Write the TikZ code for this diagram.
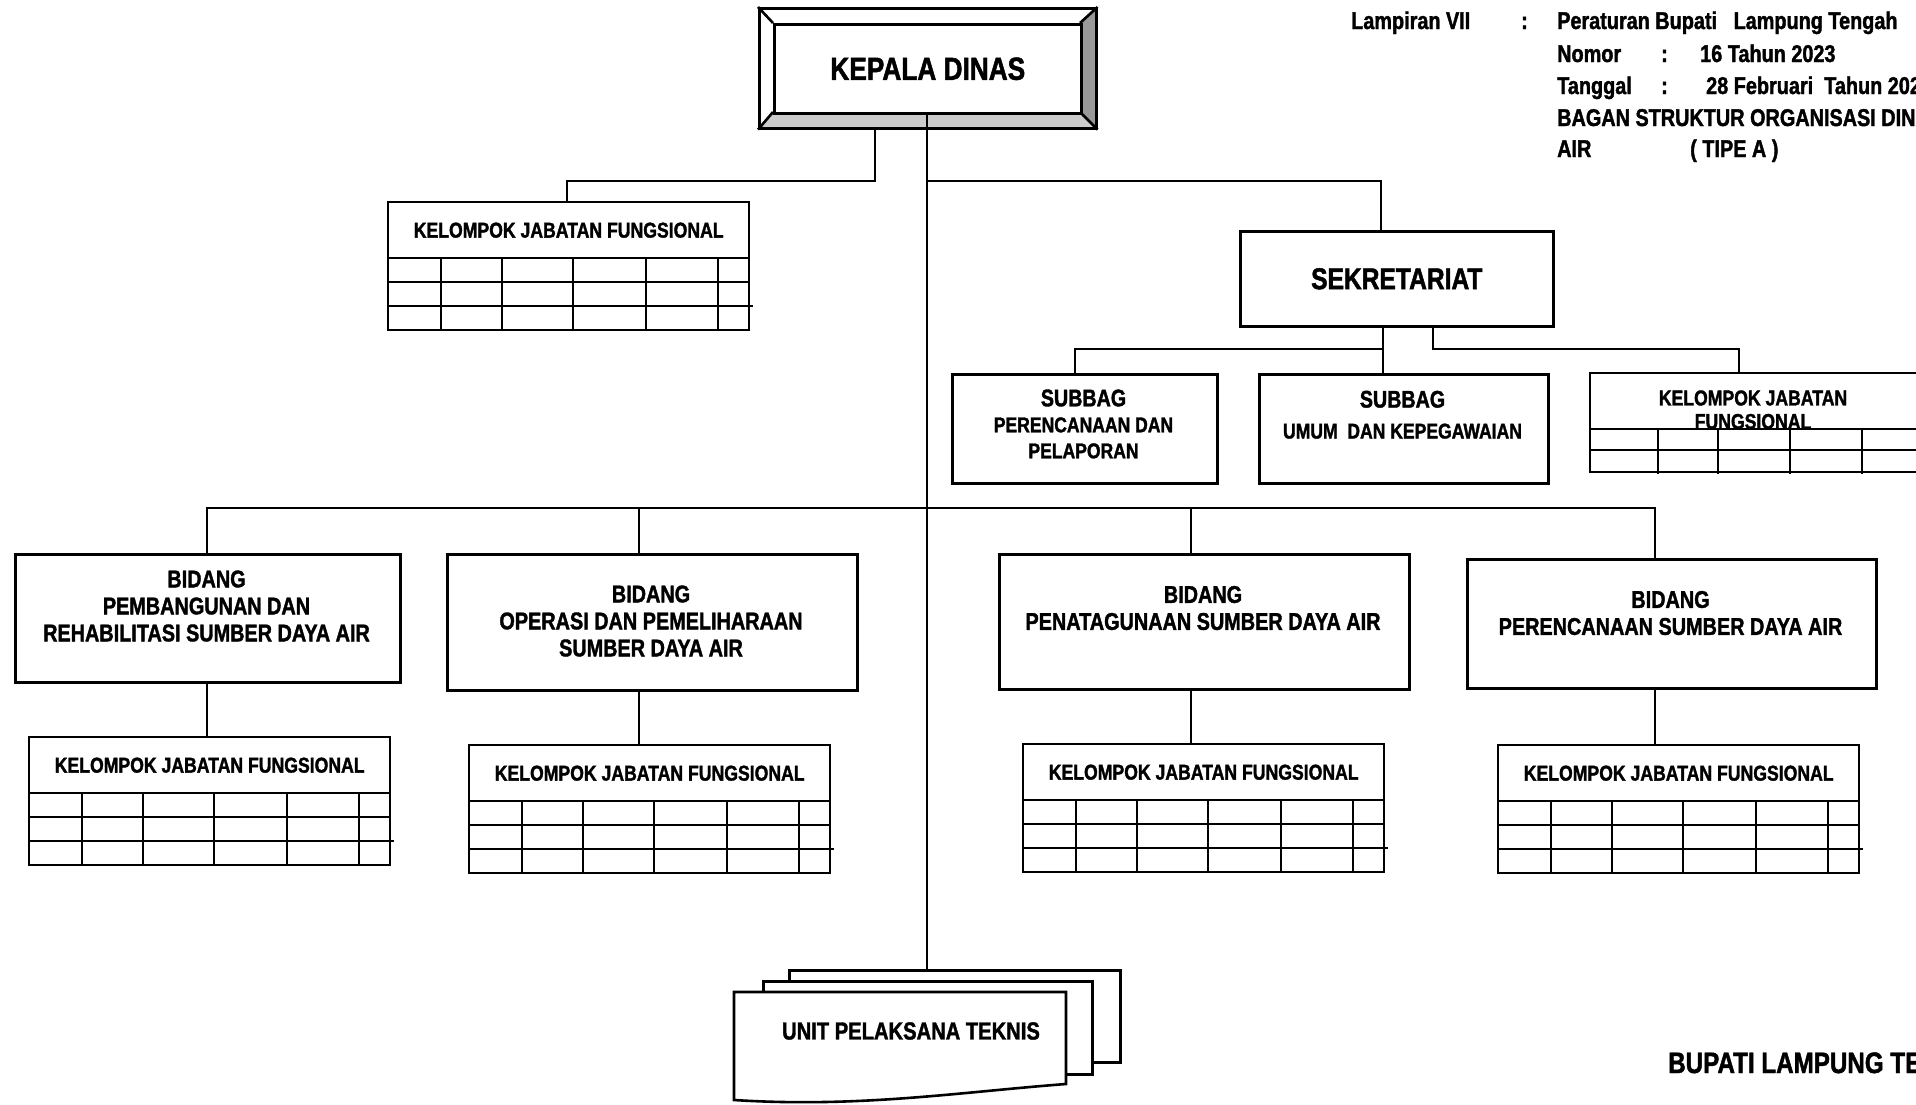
\documentclass[tikz,border=0pt]{standalone}
\usepackage{fontspec}
\setmainfont{Liberation Sans}[FakeStretch=0.82, BoldFeatures={FakeBold=1.5}]
\usetikzlibrary{calc}
\newcommand{\kjfgrid}[3]{%
  \node[kjfh] (#1) at (#2,#3) {KELOMPOK JABATAN FUNGSIONAL};
  \begin{scope}[shift={(#2,#3)}]
    \draw[ln] (0,0) rectangle (361,128);
    \draw[ln] (0,56) -- (361,56) (0,80) -- (361,80) (0,104) -- (365,104);
    \foreach \cx in {53,114,185,258,330} {\draw[ln] (\cx,56) -- (\cx,128);}
  \end{scope}}
\begin{document}
\begin{tikzpicture}[x=1pt,y=-1pt,
  ln/.style={line width=2.6pt},
  bx/.style={draw, line width=2.6pt, inner sep=0pt, anchor=north west},
  kjfh/.style={inner sep=0pt, anchor=north west, minimum width=361pt, minimum height=56pt, font=\bfseries\fontsize{21.5}{24}\selectfont},
  lbl/.style={align=center, inner sep=0pt},
  fB/.style={font=\bfseries\fontsize{24.2}{27}\selectfont},
  fS/.style={font=\bfseries\fontsize{21.4}{26}\selectfont},
  hd/.style={anchor=base west, inner sep=0pt, font=\bfseries\fontsize{24.2}{28}\selectfont}]
\useasboundingbox (0,0) rectangle (1916,1104);
\fill[white] (0,0) rectangle (1916,1104);
\foreach \n in {207,567,639,875,927,1075,1191,1381,1383,1433,1655,1739} {\coordinate (x\n) at (\n,0);}
% header
\node[hd] (h1) at (1351,29) {Lampiran VII};
\node[hd] (h2) at (1521,29) {:};
\node[hd] (h3) at (1557,29) {Peraturan Bupati\ \ \ Lampung Tengah};
\node[hd] (h4) at (1557,62) {Nomor};
\node[hd] (h5) at (1661,62) {:};
\node[hd] (h6) at (1700,62) {16 Tahun 2023};
\node[hd] (h7) at (1557,94) {Tanggal};
\node[hd] (h8) at (1661,94) {:};
\node[hd] (h9) at (1706,94) {28 Februari\ \ Tahun 2023};
\node[hd] (h10) at (1557,126) {BAGAN STRUKTUR ORGANISASI DINAS};
\node[hd] (h11) at (1557,157) {AIR};
\node[hd] (h12) at (1690,157) {( TIPE A )};
\node[hd, font=\bfseries\fontsize{29.5}{33}\selectfont] (bup) at (1668,1073) {BUPATI LAMPUNG TENGAH};
% kepala dinas
\fill[black!40] (1080,23) -- (1095,7) -- (1095,127) -- (1080,112) -- cycle;
\fill[black!20] (773,112) -- (1080,112) -- (1095,127) -- (758,127) -- cycle;
\node[bx, minimum width=337pt, minimum height=120pt] (kdo) at (758,7) {};
\draw[ln] (kdo.north west) -- (773,23) (kdo.north east) -- (1080,23) (kdo.south west) -- (773,112) (kdo.south east) -- (1080,112);
\node[bx, minimum width=307pt, minimum height=89pt, font=\bfseries\fontsize{32}{36}\selectfont] (kd) at (773,23) {KEPALA DINAS};
% UPT
\node[bx, fill=white, minimum width=331pt, minimum height=92pt] (ub) at (788,969) {};
\draw[ln] (kd.south -| x927) -- (ub.north -| x927);
\node[bx, fill=white, minimum width=329pt, minimum height=93pt] (um) at (762,980) {};
\draw[ln, fill=white] (734,992) -- (1066,992) -- (1066,1084) .. controls (960,1092) and (860,1108) .. (734,1100) -- cycle;
\node[lbl, font=\bfseries\fontsize{24.6}{28}\selectfont] (upt) at (911,1031) {UNIT PELAKSANA TEKNIS};
% top-left KJF
\coordinate (j1) at (927,181);
\kjfgrid{kjf0}{388}{202}
\draw[ln] (kdo.south -| x875) |- (x567 |- j1) -- (kjf0.north -| x567);
% sekretariat
\node[bx, minimum width=313pt, minimum height=95pt, font=\bfseries\fontsize{30}{34}\selectfont] (sek) at (1239,230) {SEKRETARIAT};
\draw[ln] (j1) -| (sek.north -| x1381);
\node[bx, minimum width=265pt, minimum height=109pt] (sub1) at (951,373) {};
\node[lbl, fS] (sub1t) at (1083.5,424) {{\fontsize{24}{26}\selectfont SUBBAG}\\PERENCANAAN DAN\\PELAPORAN};
\node[bx, minimum width=289pt, minimum height=109pt] (sub2) at (1258,373) {};
\node[lbl, fS] (sub2t) at (1402.5,414.75) {{\fontsize{24}{26}\selectfont SUBBAG}\\[5pt]UMUM\ \ DAN KEPEGAWAIAN};
\node[inner sep=0pt, anchor=north west, minimum width=330pt, minimum height=56pt] (kjfs) at (1590,373) {};
\node[lbl, font=\bfseries\fontsize{21.5}{23.5}\selectfont] (kjfst) at (1753,409.75) {KELOMPOK JABATAN\\FUNGSIONAL};
\begin{scope}[shift={(1590,373)}]
  \draw[ln] (330,0) -- (0,0) -- (0,99) -- (330,99);
  \draw[ln] (0,56) -- (330,56) (0,77) -- (330,77);
  \foreach \cx in {68,128,200,272} {\draw[ln] (\cx,56) -- (\cx,101);}
\end{scope}
\coordinate (j2) at (1383,349);
\draw[ln] (sek.south -| x1383) -- (sub2.north -| x1383);
\draw[ln] (j2) -| (sub1.north -| x1075);
\draw[ln] (sek.south -| x1433) |- (x1739 |- j2) -- (kjfs.north -| x1739);
% bidang
\node[bx, minimum width=385pt, minimum height=128pt] (b1) at (14,553) {};
\node[lbl, fB] (b1t) at (206.5,606) {BIDANG\\PEMBANGUNAN DAN\\REHABILITASI SUMBER DAYA AIR};
\node[bx, minimum width=410pt, minimum height=136pt] (b2) at (446,553) {};
\node[lbl, fB] (b2t) at (651,621) {BIDANG\\OPERASI DAN PEMELIHARAAN\\SUMBER DAYA AIR};
\node[bx, minimum width=410pt, minimum height=135pt] (b3) at (998,553) {};
\node[lbl, fB] (b3t) at (1203,608) {BIDANG\\PENATAGUNAAN SUMBER DAYA AIR};
\node[bx, minimum width=409pt, minimum height=129pt] (b4) at (1466,558) {};
\node[lbl, fB] (b4t) at (1670.5,613) {BIDANG\\PERENCANAAN SUMBER DAYA AIR};
\coordinate (bus) at (927,508);
\draw[ln] (b1.north -| x207) |- (x1655 |- bus) -- (b4.north -| x1655);
\draw[ln] (x639 |- bus) -- (b2.north -| x639);
\draw[ln] (x1191 |- bus) -- (b3.north -| x1191);
\kjfgrid{k1}{29}{737}
\kjfgrid{k2}{469}{745}
\kjfgrid{k3}{1023}{744}
\kjfgrid{k4}{1498}{745}
\draw[ln] (b1.south -| x207) -- (k1.north -| x207);
\draw[ln] (b2.south -| x639) -- (k2.north -| x639);
\draw[ln] (b3.south -| x1191) -- (k3.north -| x1191);
\draw[ln] (b4.south -| x1655) -- (k4.north -| x1655);
\end{tikzpicture}
\end{document}
